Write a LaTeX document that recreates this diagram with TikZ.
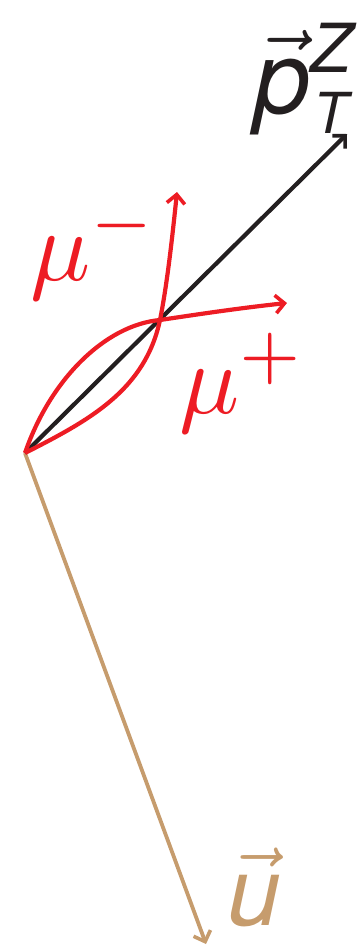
\documentclass[tikz,border=0pt]{standalone}
\usepackage{amsmath}
\usepackage{fontspec}
\setsansfont{TeX Gyre Heros}
\usetikzlibrary{arrows.meta}
\definecolor{mured}{RGB}{237,28,36}
\definecolor{ubrown}{RGB}{198,156,109}
\definecolor{pblack}{RGB}{35,31,32}
\newcommand{\hv}[1]{\text{\sffamily\itshape #1}}
\begin{document}
\begin{tikzpicture}[x=1pt,y=-1pt,
  vec/.style={line width=4.2pt, -{Straight Barb[length=9pt,width=18pt,line width=3.6pt]}},
  lbl/.style={inner sep=0pt, anchor=base west}]
\useasboundingbox (0,0) rectangle (358,945);
\coordinate (O) at (25,453);
\coordinate (C) at (160,320);
\coordinate (P) at (347,134);
\coordinate (U) at (206,944);
\coordinate (Mm) at (177,192);
\coordinate (Mp) at (287,303);
\draw[vec, ubrown, line width=3.8pt] (O) -- (U);
\draw[vec, pblack] (O) -- (P);
\draw[vec, mured] (O) .. controls (90,420) and (145,390) .. (C) .. controls (167,285) and (172,240) .. (Mm);
\draw[vec, mured] (O) .. controls (50,380) and (105,325) .. (C) .. controls (200,314) and (240,308) .. (Mp);
\node[lbl, mured, scale=10] (mum) at (28,280) {$\mu^-$};
\node[lbl, mured, scale=10] (mup) at (177,413) {$\mu^+$};
\node[lbl, pblack, scale=10.1] (pz) at (252,113) {$\vec{\hv{p}}$\sffamily\itshape\rlap{\raisebox{-2pt}{\fontsize{5.6}{6}\selectfont\hspace{0.35pt}T}}\raisebox{4.05pt}{\fontsize{6.7}{6}\selectfont Z}};
\node[lbl, ubrown, scale=9.6] (u) at (226,925) {$\vec{\hv{u}}$};
\end{tikzpicture}
\end{document}
